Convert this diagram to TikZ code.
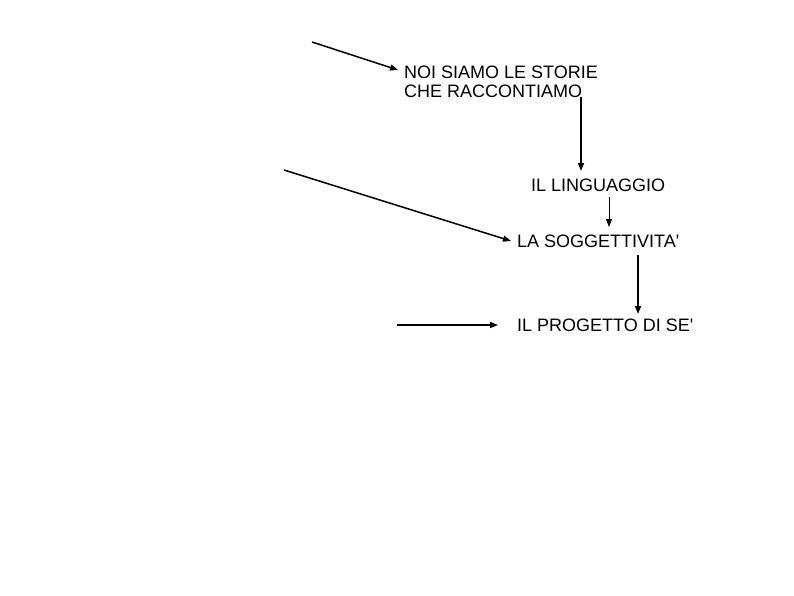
\documentclass[tikz,border=0pt]{standalone}
\usepackage{fontspec}
\setmainfont{Liberation Sans}
\usetikzlibrary{arrows.meta}
\begin{document}
\begin{tikzpicture}[x=1pt,y=-1pt,
  lbl/.style={anchor=west,inner sep=0pt,align=left,font=\fontsize{18}{19}\selectfont},
  arr/.style={line width=1.5pt,-{Triangle[length=8pt,width=6pt]}}]
\useasboundingbox (0,0) rectangle (794,595);
\node[lbl] (noi) at (404,81.5) {NOI SIAMO LE STORIE\\CHE RACCONTIAMO};
\node[lbl] (ling) at (531,185) {IL LINGUAGGIO};
\node[lbl] (sogg) at (517,241) {LA SOGGETTIVITA\textquotesingle};
\node[lbl] (prog) at (517,325) {IL PROGETTO DI SE\textquotesingle};
\coordinate (s1) at (312,42);
\coordinate (s2) at (284,170);
\coordinate (s3) at (397,325);
\draw[arr] (s1) -- (398,70);
\draw[arr] (noi.south -| 581,0) ++(0,-1) -- (581,171);
\draw[arr,line width=0.9pt] (609,197) -- (609,227);
\draw[arr] (s2) -- ([xshift=-6pt]sogg.west);
\draw[arr] (638,255) -- (638,314);
\draw[arr] (s3) -- ([xshift=-19pt]prog.west);
\end{tikzpicture}
\end{document}
